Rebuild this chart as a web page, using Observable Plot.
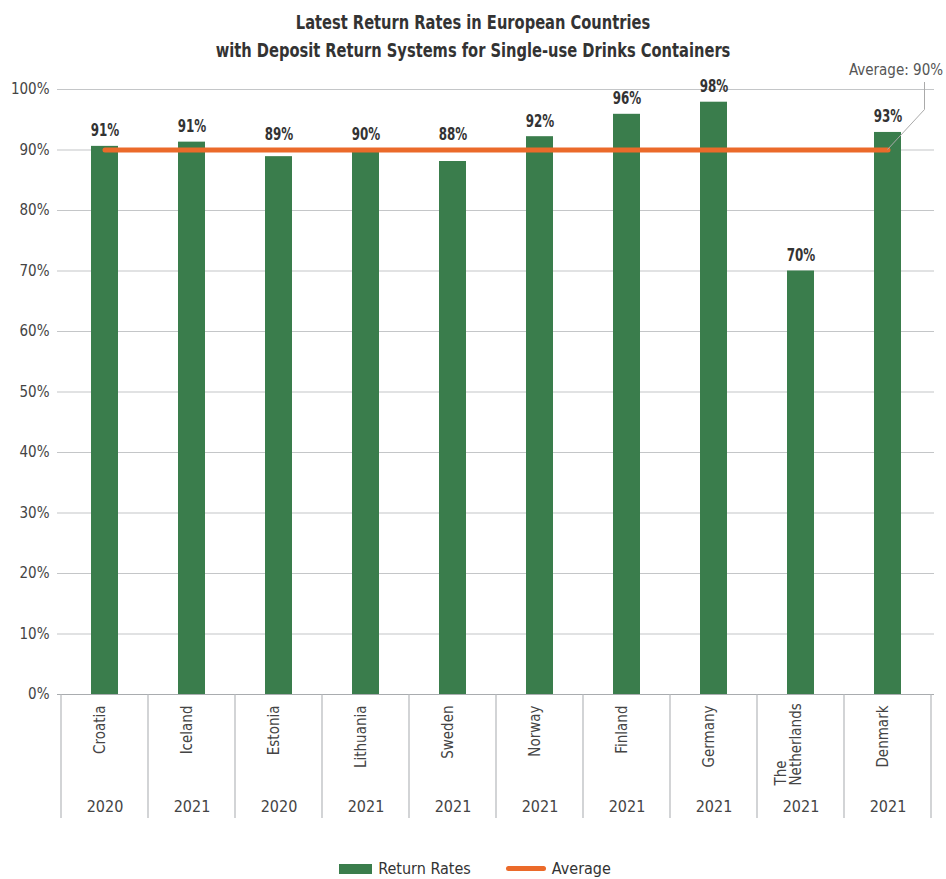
<!DOCTYPE html>
<html>
<head>
<meta charset="utf-8">
<script src="https://cdn.jsdelivr.net/npm/d3@7"></script>
<script src="https://cdn.jsdelivr.net/npm/@observablehq/plot@0.6"></script>
<style>
  body { margin: 0; background: #fff; font-family: "Liberation Sans Narrow", "DejaVu Sans Condensed", Roboto, sans-serif; }
  #wrap { position: relative; width: 946px; height: 879px; overflow: hidden; background: #fff; }
  #title { position: absolute; left: 0; top: 8px; width: 946px; text-align: center; font-size: 20px; line-height: 28px; color: #333; font-weight: bold; transform: scaleX(0.815); transform-origin: 473px 0; }
  #chart { position: absolute; left: 0; top: 62px; }
  #legend { position: absolute; left: 0; top: 859px; width: 946px; display: flex; justify-content: center; align-items: center; gap: 0; font-size: 16px; color: #333; }
  .sw-bar { width: 33px; height: 10px; margin-left: 4px; margin-right: 6px; }
  .sw-line { width: 40px; height: 5px; border-radius: 3px; margin-left: 35px; margin-right: 6px; }
</style>
</head>
<body>
<div id="wrap">
  <div id="title"></div>
  <div id="chart"></div>
  <div id="legend"></div>
</div>
<script>
const titleLines = ["Latest Return Rates in European Countries", "with Deposit Return Systems for Single-use Drinks Containers"];
const countries = ["Croatia", "Iceland", "Estonia", "Lithuania", "Sweden", "Norway", "Finland", "Germany", "The Netherlands", "Denmark"];
const years = ["2020", "2021", "2020", "2021", "2021", "2021", "2021", "2021", "2021", "2021"];
const returnRates = [90.6, 91.3, 88.9, 89.6, 88.1, 92.2, 95.9, 97.9, 70.0, 92.9];
const averageRate = 90;
const yTicks = [0, 10, 20, 30, 40, 50, 60, 70, 80, 90, 100];
const seriesNames = ["Return Rates", "Average"];
const averageLabel = "Average: 90%";

const green = "#3a7d4c";
const orange = "#eb6a2a";
const font = '"Liberation Sans Narrow", "DejaVu Sans Condensed", Roboto, sans-serif';

document.getElementById("title").innerHTML = titleLines.join("<br>");

const rows = countries.map((c, i) => ({country: c, year: years[i], value: returnRates[i]}));
const avgRows = countries.map(c => ({country: c, value: averageRate}));

// a value label whose bar ends just under the average line is lifted above the line
const labelAnchor = d => (d.value < averageRate && averageRate - d.value < 3) ? averageRate : d.value;

const dividers = (index, scales) => {
  const x = scales.x, y = scales.y;
  const sx = scales.scales && scales.scales.x;
  const step = sx && sx.step != null ? sx.step : x.step();
  const bw = sx && sx.bandwidth != null ? sx.bandwidth : x.bandwidth();
  const edges = countries.map(c => x(c) + bw / 2 - step / 2);
  edges.push(x(countries[countries.length - 1]) + bw / 2 + step / 2);
  const g = d3.create("svg:g");
  const y0 = y(0);
  g.selectAll("line").data(edges).join("line")
    .attr("x1", d => d).attr("x2", d => d)
    .attr("y1", y0).attr("y2", y0 + 124)
    .attr("stroke", "#b5b8bb").attr("stroke-width", 1.2);
  // leader line for the average annotation
  const last = countries[countries.length - 1];
  const ax = x(last) + bw / 2, ay = y(averageRate);
  g.append("path")
    .attr("d", `M${ax},${ay}L${ax + 37},${ay - 40}L${ax + 37},${y(100) - 7}`)
    .attr("fill", "none").attr("stroke", "#aaa").attr("stroke-width", 1);
  return g.node();
};

const chart = Plot.plot({
  width: 946,
  height: 788,
  marginTop: 27,
  marginBottom: 156,
  marginLeft: 57,
  marginRight: 12,
  style: {fontFamily: font, background: "transparent"},
  x: {domain: countries, paddingInner: 0.69, paddingOuter: 0.345, axis: null},
  y: {domain: [0, 100], axis: null},
  marks: [
    Plot.ruleY(yTicks.filter(t => t > 0), {stroke: "#c4c6c8", strokeWidth: 1.2}),
    Plot.barY(rows, {x: "country", y: "value", fill: green}),
    Plot.ruleY([0], {stroke: "#a9acaf", strokeWidth: 1.2}),
    Plot.text(yTicks, {x: null, y: d => d, frameAnchor: "left", text: d => d + "%", textAnchor: "end", dx: -8, fontSize: 15, fill: "#444"}),
    Plot.text(rows, {x: "country", y: labelAnchor, text: d => Math.round(d.value) + "%", dy: -15.5, fontSize: 17, fill: "#333", fontWeight: "bold", ariaDescription: "squeeze-label"}),
    Plot.line(avgRows, {x: "country", y: "value", stroke: orange, strokeWidth: 5}),
    Plot.text(rows.filter(d => d.country !== "The Netherlands"), {x: "country", frameAnchor: "bottom", text: "country", rotate: -90, textAnchor: "end", dy: 11, fontSize: 15, fill: "#444"}),
    Plot.text(rows.filter(d => d.country === "The Netherlands"), {x: "country", frameAnchor: "bottom", text: d => d.country.replace(" ", "\n"), rotate: -90, textAnchor: "start", dy: 91, fontSize: 15, fill: "#444", lineHeight: 1.0}),
    Plot.text(rows, {x: "country", frameAnchor: "bottom", text: "year", dy: 117, fontSize: 16, fill: "#444"}),
    Plot.text([averageLabel], {x: () => countries[countries.length - 1], y: () => 100, text: d => d, dx: 8, dy: -19, fontSize: 15, fill: "#555"}),
    dividers
  ]
});
d3.select(chart).selectAll('g[aria-description="squeeze-label"] text')
  .attr("transform", function () { return (this.getAttribute("transform") || "") + " scale(0.78,1)"; });
document.getElementById("chart").appendChild(chart);

const legend = document.getElementById("legend");
legend.innerHTML =
  `<span class="sw-bar" style="background:${green}"></span><span>${seriesNames[0]}</span>` +
  `<span class="sw-line" style="background:${orange}"></span><span>${seriesNames[1]}</span>`;
</script>
</body>
</html>
